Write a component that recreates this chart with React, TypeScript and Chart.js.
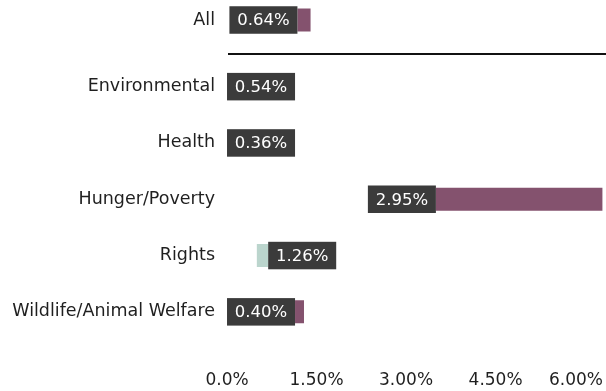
import React, { useEffect, useRef } from 'react';
import { Chart, registerables } from 'chart.js';

Chart.register(...registerables);

// ---- data ----
const allCategory = ['All'];
const allStart = [1.18];
const allEnd = [1.4];
const allShown = [0.64];

const categories = ['Environmental', 'Health', 'Hunger/Poverty', 'Rights', 'Wildlife/Animal Welfare'];
const barStart = [1.14, 1.14, 3.5, 0.69, 1.14];
const barEnd = [1.14, 1.14, 6.29, 0.5, 1.29];
const shownValues = [0.54, 0.36, 2.95, 1.26, 0.4];

const xTickValues = [0, 1.5, 3, 4.5, 6];
const xTickLabels = ['0.0%', '1.50%', '3.00%', '4.50%', '6.00%'];

// ---- style ----
const FONT = '"DejaVu Sans", sans-serif';
const TEXT = '#1f1f1f';
const UP = '#84526e';
const DOWN = '#bbd5cd';
const BOX = '#3b3b3b';
const BOX_H = 27.5;
const BOX_PAD = 7.8;

const colorsFor = (s: number[], e: number[]) => s.map((v, i) => (e[i] >= v ? UP : DOWN));

const overlayPlugin = {
  id: 'overlay',
  afterDatasetsDraw(chart: any) {
    const ctx = chart.ctx as CanvasRenderingContext2D;
    const x = chart.scales.x;
    const area = chart.chartArea;
    const groups = [
      { scale: chart.scales.yAll, starts: allStart, ends: allEnd, values: allShown },
      { scale: chart.scales.yMain, starts: barStart, ends: barEnd, values: shownValues },
    ];
    ctx.save();
    // separator line between "All" and the categories
    const ya = chart.scales.yAll.getPixelForValue(0);
    const yb = chart.scales.yMain.getPixelForValue(0);
    const ly = Math.round((ya + yb) / 2) + 1;
    ctx.fillStyle = '#111';
    ctx.fillRect(area.left + 1, ly - 1, chart.width - area.left - 1, 2);

    // value boxes
    ctx.font = `16.5px ${FONT}`;
    ctx.textBaseline = 'middle';
    ctx.textAlign = 'center';
    for (const g of groups) {
      g.values.forEach((v, i) => {
        const text = v.toFixed(2) + '%';
        const w = ctx.measureText(text).width + BOX_PAD * 2;
        const sx = x.getPixelForValue(g.starts[i]);
        const cy = g.scale.getPixelForValue(i);
        const left = g.ends[i] >= g.starts[i] ? sx - w : sx;
        ctx.fillStyle = BOX;
        ctx.fillRect(left, cy - BOX_H / 2, w, BOX_H);
        ctx.fillStyle = '#ffffff';
        ctx.fillText(text, left + w / 2, cy + 1);
      });
    }

    // x tick labels (last one kept inside the canvas)
    ctx.font = `17px ${FONT}`;
    ctx.fillStyle = TEXT;
    xTickValues.forEach((v, i) => {
      const t = xTickLabels[i];
      const tw = ctx.measureText(t).width;
      let cx = x.getPixelForValue(v);
      cx = Math.min(cx, chart.width - 3 - tw / 2);
      ctx.fillText(t, cx, area.bottom + 41);
    });
    ctx.restore();
  },
};

export default function App() {
  const ref = useRef<HTMLCanvasElement | null>(null);

  useEffect(() => {
    document.body.style.margin = '0';
    if (!ref.current) return;
    const yCommon = {
      type: 'category' as const,
      position: 'left' as const,
      stack: 'rows',
      offset: true,
      grid: { display: false, drawTicks: false },
      border: { display: false },
      ticks: { font: { family: FONT, size: 17.5 }, color: TEXT, padding: 12, autoSkip: false },
      afterFit: (s: any) => {
        s.width = 227;
        s.paddingTop = 0;
        s.paddingBottom = 0;
      },
    };
    const barStyle = {
      barThickness: 23,
      borderWidth: 0,
      grouped: false,
      inflateAmount: 0,
    };
    const chart = new Chart(ref.current, {
      type: 'bar',
      data: {
        datasets: [
          {
            data: allStart.map((s, i) => [s, allEnd[i]]) as any,
            yAxisID: 'yAll',
            xAxisID: 'x',
            backgroundColor: colorsFor(allStart, allEnd),
            ...barStyle,
          },
          {
            data: barStart.map((s, i) => [s, barEnd[i]]) as any,
            yAxisID: 'yMain',
            xAxisID: 'x',
            backgroundColor: colorsFor(barStart, barEnd),
            ...barStyle,
          },
        ],
      },
      options: {
        indexAxis: 'y',
        animation: false,
        responsive: true,
        maintainAspectRatio: false,
        layout: { padding: { top: 0, bottom: 51, left: 0, right: 0 } },
        plugins: { legend: { display: false }, tooltip: { enabled: false } },
        scales: {
          x: { type: 'linear', min: 0, max: 6.35, display: false },
          yMain: { ...yCommon, labels: categories, stackWeight: 281.5 } as any,
          yGap: { ...yCommon, labels: [''], stackWeight: 18.5, ticks: { display: false } } as any,
          yAll: { ...yCommon, labels: allCategory, stackWeight: 40 } as any,
        },
      },
      plugins: [overlayPlugin],
    });
    return () => chart.destroy();
  }, []);

  return (
    <div style={{ width: 606, height: 391, position: 'relative' }}>
      <canvas ref={ref} />
    </div>
  );
}
